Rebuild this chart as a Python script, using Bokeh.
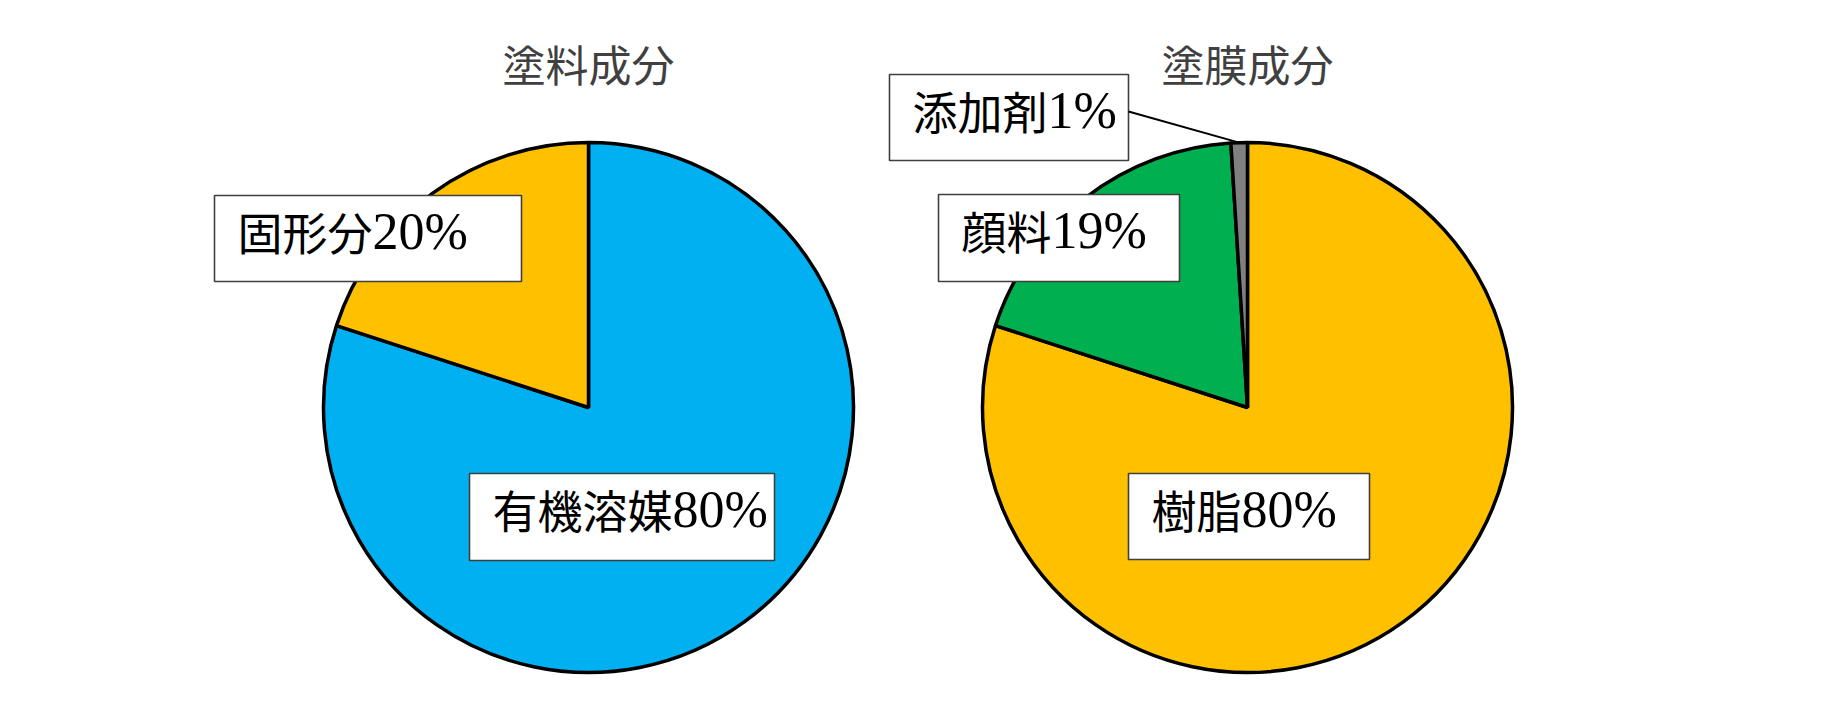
import numpy as np
from bokeh.plotting import figure
from bokeh.models import Range1d, ColumnDataSource
from bokeh.core.properties import value
from bokeh.embed import file_html
from bokeh.resources import INLINE

# ---- data ----
chart_titles = ["塗料成分", "塗膜成分"]

paint_names = ["有機溶媒", "固形分"]
paint_values = [80, 20]
paint_colors = ["#00B0F0", "#FFC000"]

film_names = ["樹脂", "顔料", "添加剤"]
film_values = [80, 19, 1]
film_colors = ["#FFC000", "#00B050", "#808080"]

# ---- layout (page pixels, origin top-left) ----
W, H = 1838, 705
RADIUS = 265
pie_centers = [(588, 407), (1247, 407)]
title_y = 62
# label boxes: (left, top, right, bottom) for each slice, same order as the data
paint_boxes = [(469, 473, 774, 560), (214, 195, 521, 281)]
film_boxes = [(1128, 473, 1369, 559), (938, 194, 1179, 281), (889, 74, 1128, 160)]
leader_start = (1128, 111)   # callout line for the smallest film slice

NAME_FONT = value("Noto Sans CJK JP")
NUM_FONT = value("Liberation Serif")
NAME_SIZE = 45      # px; CJK ideographs advance one em
NUM_SIZE = 52
TITLE_FONT = value("Noto Sans CJK JP")


def fy(py):
    """page-pixel y (down) -> data y (up)"""
    return H - py


p = figure(width=W, height=H, x_range=Range1d(0, W), y_range=Range1d(0, H),
           x_axis_type=None, y_axis_type=None, toolbar_location=None,
           output_backend="svg", min_border=0, outline_line_color=None,
           background_fill_color="white", border_fill_color="white")
p.grid.visible = False


def draw_pie(center, names, values, colors, boxes):
    cx, cy = center[0], fy(center[1])
    vals = np.asarray(values, dtype=float)
    frac = vals / vals.sum()
    c1 = np.cumsum(frac)
    c0 = c1 - frac
    # clockwise from 12 o'clock
    start = np.pi / 2 - 2 * np.pi * c1
    end = np.pi / 2 - 2 * np.pi * c0
    src = ColumnDataSource(dict(start=start, end=end, color=colors))
    p.wedge(x=cx, y=cy, radius=RADIUS, start_angle="start", end_angle="end",
            direction="anticlock", fill_color="color", line_color="black",
            line_width=3.5, source=src)

    left = [b[0] for b in boxes]
    right = [b[2] for b in boxes]
    top = [fy(b[1]) for b in boxes]
    bottom = [fy(b[3]) for b in boxes]
    p.quad(left=left, right=right, top=top, bottom=bottom,
           fill_color="white", line_color="#3f3f3f", line_width=1.6)

    # label = name (CJK) + value (serif digits), sharing one baseline
    base = [fy(b[1] + 36) for b in boxes]
    name_x = [l + 23 for l in left]
    num_x = [x + NAME_SIZE * len(n) for x, n in zip(name_x, names)]
    p.text(x=name_x, y=base, text=list(names), text_font=NAME_FONT,
           text_font_size=f"{NAME_SIZE}px", text_color="black",
           text_align="left", text_baseline="alphabetic")
    p.text(x=num_x, y=base, text=[f"{v:g}%" for v in values], text_font=NUM_FONT,
           text_font_size=f"{NUM_SIZE}px", text_color="black",
           text_align="left", text_baseline="alphabetic")
    mid = (start + end) / 2
    return cx + RADIUS * np.cos(mid), cy + RADIUS * np.sin(mid)


draw_pie(pie_centers[0], paint_names, paint_values, paint_colors, paint_boxes)
mx, my = draw_pie(pie_centers[1], film_names, film_values, film_colors, film_boxes)

# callout line for 添加剤
p.line(x=[leader_start[0], mx[2]], y=[fy(leader_start[1]), my[2]],
       line_color="black", line_width=2)

# chart titles
p.text(x=[c[0] for c in pie_centers], y=[fy(title_y)] * 2, text=chart_titles,
       text_font=TITLE_FONT, text_font_size="43px", text_color="#404040",
       text_align="center", text_baseline="middle")

open("out.html", "w").write(file_html(p, INLINE))
